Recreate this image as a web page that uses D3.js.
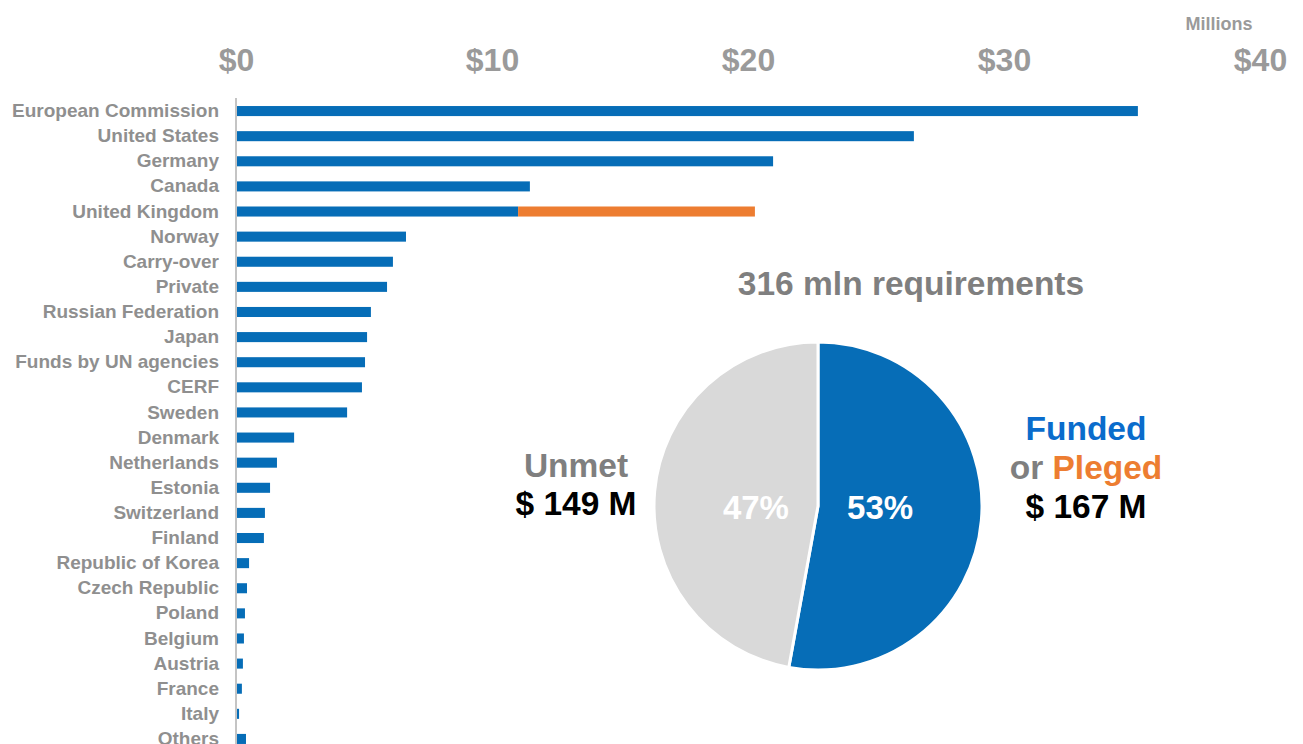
<!DOCTYPE html>
<html>
<head>
<meta charset="utf-8">
<script src="https://cdn.jsdelivr.net/npm/d3@7"></script>
<style>
  body { margin: 0; background: #fff; }
  text { font-family: "Liberation Sans", Arial, sans-serif; font-weight: bold; }
</style>
</head>
<body>
<div id="chart"></div>
<script>
// donors and amounts (USD millions)
const donors = ["European Commission", "United States", "Germany", "Canada", "United Kingdom",
  "Norway", "Carry-over", "Private", "Russian Federation", "Japan", "Funds by UN agencies",
  "CERF", "Sweden", "Denmark", "Netherlands", "Estonia", "Switzerland", "Finland",
  "Republic of Korea", "Czech Republic", "Poland", "Belgium", "Austria", "France", "Italy", "Others"];
const funded = [35.23, 26.48, 20.98, 11.48, 11.02, 6.64, 6.13, 5.9, 5.27, 5.12, 5.04, 4.92, 4.34,
  2.27, 1.6, 1.33, 1.13, 1.09, 0.51, 0.43, 0.35, 0.31, 0.27, 0.23, 0.12, 0.39];
const pledged = [0, 0, 0, 0, 9.25, 0, 0, 0, 0, 0, 0, 0, 0, 0, 0, 0, 0, 0, 0, 0, 0, 0, 0, 0, 0, 0];
const xTicks = [0, 10, 20, 30, 40];

// pie
const pieLabels = ["Funded", "Unmet"];
const pieValues = [167, 149];
const pieColors = ["#066db7", "#d9d9d9"];

const W = 1303, H = 744;
const blue = "#066db7", orange = "#ed7d31", grey = "#8f8f8f";

const svg = d3.select("#chart").append("svg")
  .attr("width", W).attr("height", H);

const x = d3.scaleLinear().domain([0, 40]).range([236, 1260]);
const y = d3.scaleBand().domain(donors).range([98.5, 751.5]).paddingInner(0.6).paddingOuter(0.3);

// top axis
const xAxis = svg.append("g")
  .attr("transform", "translate(0,60)")
  .call(d3.axisTop(x).tickValues(xTicks).tickFormat(d => "$" + d).tickSize(0));
xAxis.select(".domain").remove();
xAxis.selectAll("text")
  .attr("y", 0).attr("dy", "0.35em")
  .style("font-size", "32px").attr("fill", "#9a9a9a");

svg.append("text")
  .attr("x", 1219).attr("y", 30)
  .attr("text-anchor", "middle")
  .style("font-size", "18px").attr("fill", "#9a9a9a")
  .text("Millions");

// left axis
const yAxis = svg.append("g")
  .attr("transform", "translate(236,0)")
  .call(d3.axisLeft(y).tickSize(0).tickPadding(17));
yAxis.select(".domain").attr("stroke", "#b0b0b0").attr("stroke-width", 1.5)
  .attr("d", "M0,98V744");
yAxis.selectAll("text")
  .style("font-size", "19px").attr("fill", grey);

// bars
svg.selectAll(".bar")
  .data(donors)
  .enter().append("rect")
  .attr("x", x(0) + 1)
  .attr("y", d => y(d))
  .attr("width", (d, i) => x(funded[i]) - x(0) - 1)
  .attr("height", y.bandwidth())
  .attr("fill", blue);

svg.selectAll(".pbar")
  .data(donors.filter((d, i) => pledged[i] > 0))
  .enter().append("rect")
  .attr("x", d => x(funded[donors.indexOf(d)]))
  .attr("y", d => y(d))
  .attr("width", d => x(pledged[donors.indexOf(d)]) - x(0))
  .attr("height", y.bandwidth())
  .attr("fill", orange);

// pie
const cx = 818, cy = 506, r = 164;
const pie = d3.pie().sort(null)(pieValues);
const arc = d3.arc().innerRadius(0).outerRadius(r);
const gp = svg.append("g").attr("transform", `translate(${cx},${cy})`);
gp.selectAll("path")
  .data(pie)
  .enter().append("path")
  .attr("d", arc)
  .attr("fill", (d, i) => pieColors[i])
  .attr("stroke", "#fff").attr("stroke-width", 3);

const lab = d3.arc().innerRadius(r * 0.38).outerRadius(r * 0.38);
gp.selectAll(".pct")
  .data(pie)
  .enter().append("text")
  .attr("x", d => lab.centroid(d)[0])
  .attr("y", 1)
  .attr("dy", "0.35em")
  .attr("text-anchor", "middle")
  .style("font-size", "33px").attr("fill", "#fff")
  .text(d => Math.round(d.value / d3.sum(pieValues) * 100) + "%");

svg.append("text")
  .attr("x", 911).attr("y", 295)
  .attr("text-anchor", "middle")
  .style("font-size", "33.5px").attr("fill", "#7f7f7f")
  .text(d3.sum(pieValues) + " mln requirements");

const tf = svg.append("g").attr("text-anchor", "middle").style("font-size", "33.5px");
tf.append("text").attr("x", 1086).attr("y", 440).attr("fill", "#0a6ccc").text(pieLabels[0]);
const t2 = tf.append("text").attr("x", 1086).attr("y", 479);
t2.append("tspan").attr("fill", "#7f7f7f").text("or ");
t2.append("tspan").attr("fill", orange).text("Pleged");
tf.append("text").attr("x", 1086).attr("y", 518).attr("fill", "#000").text("$ " + pieValues[0] + " M");

tf.append("text").attr("x", 576).attr("y", 477).attr("fill", "#7f7f7f").text(pieLabels[1]);
tf.append("text").attr("x", 576).attr("y", 515).attr("fill", "#000").text("$ " + pieValues[1] + " M");
</script>
</body>
</html>
